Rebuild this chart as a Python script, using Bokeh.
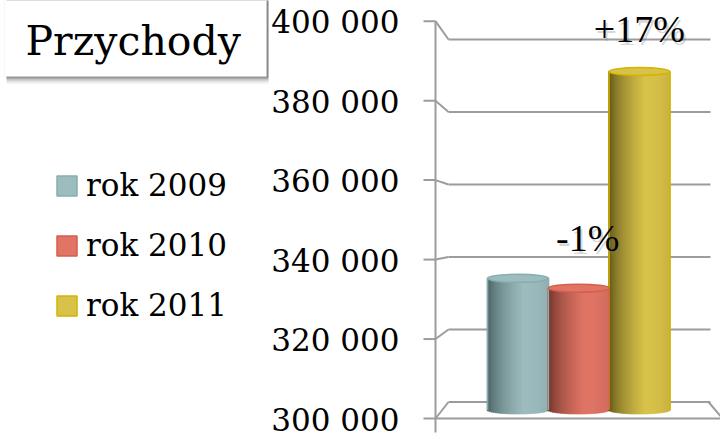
from bokeh.plotting import figure
from bokeh.models import (Range1d, ColumnDataSource, Legend, LegendItem, Label, BoxAnnotation)
from bokeh.core.properties import value
from bokeh.embed import file_html
from bokeh.resources import INLINE

# ---------------- data ----------------
years = ["rok 2009", "rok 2010", "rok 2011"]
revenue = [334700, 332100, 389200]
ticks = [300000, 320000, 340000, 360000, 380000, 400000]
title_text = "Przychody"
light = ["#9dbcbe", "#e07565", "#d8c24a"]
dark = ["#3e5456", "#5e2a22", "#4e4512"]
edge = ["#86aeb0", "#d45f4b", "#d4b400"]

# ---------------- layout geometry ----------------
W, H = 720, 441
FRONT_X = 435             # x of the front value axis
UNIT = 60.7               # px per category
BAR0 = 517.5              # x of first bar centre
FONT = "DejaVu Serif"
PFONT = "Liberation Serif"
GRID = "#9c9c9c"


def make_range(p300, p400):
    """linear value range whose 300k / 400k values sit at y p300 / p400"""
    s = (p300 - p400) / 100000.0
    return Range1d(300000 - (H - p300) / s, 400000 + p400 / s)


mid = make_range(409.5, 30)
front = make_range(418, 20.7)
back = make_range(401.5, 39)
PX_PER_VAL = H / (mid.end - mid.start)


def pix(v, r):
    return (r.end - v) / (r.end - r.start) * H


def val(p, r):
    return r.end - p / H * (r.end - r.start)


def xu(px):
    return (px - BAR0) / UNIT


p = figure(width=W, height=H, x_range=Range1d(xu(0), xu(W)), y_range=mid,
           output_backend="svg", toolbar_location=None,
           x_axis_location=None, y_axis_location=None,
           min_border_left=0, min_border_right=0,
           min_border_top=0, min_border_bottom=0)
p.outline_line_color = None
p.xgrid.visible = False
p.ygrid.visible = False
p.background_fill_color = "white"
p.border_fill_color = "white"

p.extra_y_ranges = {"front": front, "back": back}

# ---------------- perspective grid ----------------
BACK_L, BACK_R = 448, 710
n = len(ticks)
gs = ColumnDataSource(dict(x0=[xu(BACK_L)] * n, x1=[xu(BACK_R)] * n, y=ticks))
p.segment(x0="x0", y0="y", x1="x1", y1="y", source=gs, y_range_name="back",
          line_color=GRID, line_width=2)
cs = ColumnDataSource(dict(x0=[xu(FRONT_X)] * n, x1=[xu(BACK_L)] * n,
                           y0=ticks, y1=[val(pix(t, back), front) for t in ticks]))
p.segment(x0="x0", y0="y0", x1="x1", y1="y1", source=cs, y_range_name="front",
          line_color=GRID, line_width=2)
base = ticks[0]
p.segment(x0=[xu(FRONT_X), xu(BACK_R - 2)], y0=[base, val(pix(base, back), front)],
          x1=[xu(722), xu(722)], y1=[base, base], y_range_name="front",
          line_color=GRID, line_width=2)

# front axis: line, ticks, labels
p.segment(x0=[xu(FRONT_X)], y0=[val(432, front)], x1=[xu(FRONT_X)], y1=[ticks[-1]],
          y_range_name="front", line_color=GRID, line_width=2)
ts = ColumnDataSource(dict(x0=[xu(FRONT_X - 12)] * n, x1=[xu(FRONT_X)] * n, y=ticks,
                           lx=[xu(399)] * n,
                           lab=["{:,}".format(t).replace(",", " ") for t in ticks]))
p.segment(x0="x0", y0="y", x1="x1", y1="y", source=ts, y_range_name="front",
          line_color=GRID, line_width=2)
p.text(x="lx", y="y", text="lab", source=ts, y_range_name="front",
       text_font=value(FONT), text_font_size="31px", text_color="black",
       text_align="right", text_baseline="middle", y_offset=1)

# ---------------- bars ----------------
idx = list(range(len(years)))
bsrc = ColumnDataSource(dict(x=idx, top=revenue, fill=light, line=edge, label=years))
bars = p.vbar(x="x", top="top", bottom=base, width=1.0, source=bsrc,
              fill_color="fill", line_color="line", line_width=1.5)


def hex2rgb(h):
    h = h.lstrip("#")
    return [int(h[i:i + 2], 16) for i in (0, 2, 4)]


def mix(c1, c2, t):
    a, b = hex2rgb(c1), hex2rgb(c2)
    return "#%02x%02x%02x" % tuple(int(round(a[k] + (b[k] - a[k]) * t)) for k in range(3))


N = 30
CAP = 4.0  # half height (px) of the cylinder ellipses
sx, stop, sbot, scol = [], [], [], []
for i in idx:
    for k in range(N):
        t = (k + 0.5) / N
        if t < 0.6:
            f = (t / 0.6) ** 0.55
        else:
            f = 1 - 0.12 * ((t - 0.6) / 0.4) ** 2
        sx.append(i - 0.5 + t)
        stop.append(revenue[i])
        sbot.append(base - CAP / PX_PER_VAL * (1 - (2 * t - 1) ** 2) ** 0.5)
        scol.append(mix(dark[i], light[i], f))
ssrc = ColumnDataSource(dict(x=sx, top=stop, bot=sbot, c=scol))
p.vbar(x="x", top="top", bottom="bot", width=1.5 / N, source=ssrc,
       fill_color="c", line_color="c", line_width=0.5)
p.segment(x0=[i - 0.5 for i in idx], y0=revenue, x1=[i - 0.5 for i in idx], y1=[base] * len(idx),
          line_color=edge, line_width=1.5)
p.segment(x0=[i + 0.5 for i in idx], y0=revenue, x1=[i + 0.5 for i in idx], y1=[base] * len(idx),
          line_color=edge, line_width=1.5)
p.ellipse(x="x", y="top", width=1.0, height=2 * CAP, height_units="screen", source=bsrc,
          fill_color="fill", line_color="line", line_width=1.5)

# ---------------- change labels ----------------
chg_x, chg_y, chg_t = [], [], []
for i in idx[1:]:
    c = round((revenue[i] / revenue[i - 1] - 1) * 100)
    chg_x.append(i)
    chg_y.append(revenue[i])
    chg_t.append(("+" if c > 0 else "") + "%d%%" % c)
lsrc = ColumnDataSource(dict(x=chg_x, y=chg_y, t=chg_t, dx=[9, 0], dy=[-50, -42],
                             sdx=[11, 2], sdy=[-47, -39]))
p.text(x="x", y="y", text="t", x_offset="sdx", y_offset="sdy", source=lsrc,
       text_font=value(PFONT), text_font_size="38px", text_color="#777777", text_alpha=0.3,
       text_align="center", text_baseline="middle")
p.text(x="x", y="y", text="t", x_offset="dx", y_offset="dy", source=lsrc,
       text_font=value(PFONT), text_font_size="38px", text_color="black",
       text_align="center", text_baseline="middle")

# ---------------- legend ----------------
legend = Legend(items=[LegendItem(label=years[i], renderers=[bars], index=i) for i in idx],
                location=(54, H - 323), glyph_width=25, glyph_height=25,
                label_standoff=7, spacing=24, padding=0, margin=0,
                border_line_color=None, background_fill_alpha=0,
                label_text_font=FONT, label_text_font_size="31px",
                label_text_color="black")
p.add_layout(legend)

# ---------------- title box ----------------
BL, BR, BB, BT = 4, 266, 76, -10
for k, a in enumerate([0.16, 0.12, 0.09, 0.07, 0.05, 0.04, 0.03, 0.02]):
    p.add_layout(BoxAnnotation(left=BL + 2, right=BR + 2,
                               bottom=H - (BB + 1 + k), top=H - (BT + 5),
                               left_units="screen", right_units="screen",
                               top_units="screen", bottom_units="screen",
                               fill_color="black", fill_alpha=a, line_color=None))
p.add_layout(BoxAnnotation(left=BL, right=BR, bottom=H - BB, top=H - BT,
                           left_units="screen", right_units="screen",
                           top_units="screen", bottom_units="screen",
                           fill_color="white", fill_alpha=1, line_color="#e4e4e4", line_width=1))
p.add_layout(Label(x=25, y=H - 40, x_units="screen", y_units="screen",
                   text=title_text, text_font=FONT, text_font_size="41px",
                   text_color="black", text_baseline="middle"))

open("out.html", "w").write(file_html(p, INLINE))
